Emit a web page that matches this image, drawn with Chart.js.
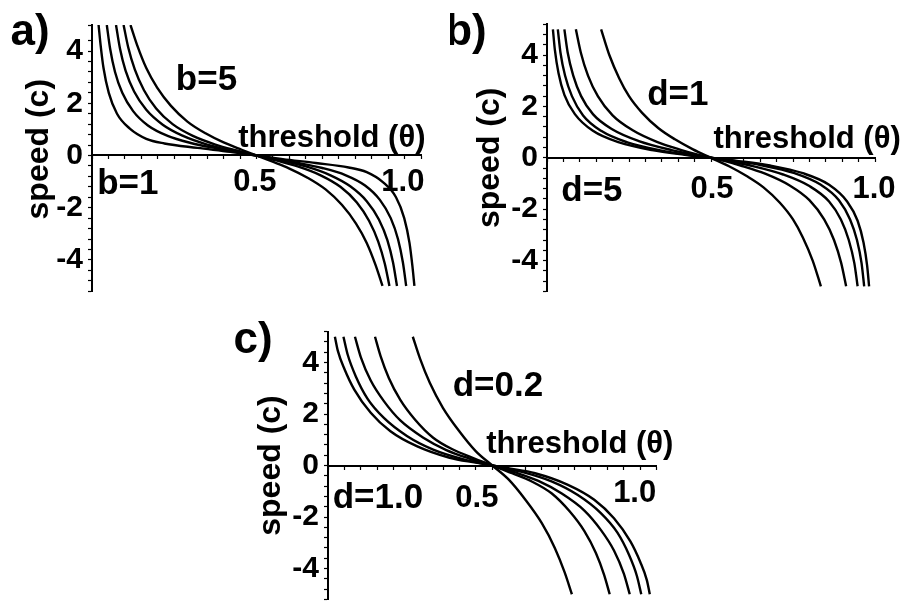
<!DOCTYPE html>
<html>
<head>
<meta charset="utf-8">
<script src="https://cdn.jsdelivr.net/npm/chart.js@4.4.1/dist/chart.umd.min.js"></script>
<style>
  html, body { margin: 0; padding: 0; background: #fff; overflow: hidden; }
  body { width: 902px; height: 603px; position: relative; }
  canvas { position: absolute; }
</style>
</head>
<body>
<canvas id="panelA" width="450" height="320" style="left:0px;top:0px"></canvas>
<canvas id="panelB" width="452" height="320" style="left:450px;top:0px"></canvas>
<canvas id="panelC" width="480" height="335" style="left:220px;top:300px"></canvas>
<script>
// tick labels
const yTickValues = [-4, -2, 0, 2, 4];
const xTickLabels = ["0.5", "1.0"];

// a) speed vs threshold for b = 1..5
const seriesA = ["b=1", "b=2", "b=3", "b=4", "b=5"];
const thetaA = [
  [0.020, 0.026, 0.035, 0.051, 0.076, 0.115, 0.165, 0.220, 0.320, 0.420, 0.500, 0.580, 0.680, 0.780, 0.835, 0.885, 0.924, 0.949, 0.965, 0.974, 0.980],
  [0.045, 0.055, 0.070, 0.092, 0.125, 0.170, 0.230, 0.300, 0.380, 0.450, 0.500, 0.550, 0.620, 0.700, 0.770, 0.830, 0.875, 0.908, 0.930, 0.945, 0.955],
  [0.073, 0.085, 0.102, 0.128, 0.165, 0.215, 0.275, 0.350, 0.430, 0.500, 0.570, 0.650, 0.725, 0.785, 0.835, 0.872, 0.898, 0.915, 0.927],
  [0.096, 0.110, 0.130, 0.158, 0.195, 0.245, 0.305, 0.375, 0.440, 0.500, 0.560, 0.625, 0.695, 0.755, 0.805, 0.842, 0.870, 0.890, 0.904],
  [0.117, 0.138, 0.165, 0.198, 0.240, 0.290, 0.345, 0.400, 0.455, 0.500, 0.545, 0.600, 0.655, 0.710, 0.760, 0.802, 0.835, 0.862, 0.883]
];
const speedA = [
  [5.0, 4.25, 3.35, 2.4, 1.6, 1.03, 0.64, 0.46, 0.29, 0.14, 0, -0.14, -0.29, -0.46, -0.64, -1.03, -1.6, -2.4, -3.35, -4.25, -5.0],
  [5.0, 4.1, 3.2, 2.4, 1.7, 1.15, 0.75, 0.48, 0.27, 0.11, 0, -0.11, -0.27, -0.48, -0.75, -1.15, -1.7, -2.4, -3.2, -4.1, -5.0],
  [5.0, 4.1, 3.25, 2.45, 1.75, 1.18, 0.76, 0.42, 0.18, 0, -0.18, -0.42, -0.76, -1.18, -1.75, -2.45, -3.25, -4.1, -5.0],
  [5.0, 4.15, 3.3, 2.5, 1.8, 1.2, 0.76, 0.42, 0.19, 0, -0.19, -0.42, -0.76, -1.2, -1.8, -2.5, -3.3, -4.15, -5.0],
  [5.0, 4.2, 3.35, 2.6, 1.9, 1.3, 0.85, 0.5, 0.22, 0, -0.22, -0.5, -0.85, -1.3, -1.9, -2.6, -3.35, -4.2, -5.0]
];

// b) speed vs threshold for d = 1..5
const seriesB = ["d=1", "d=2", "d=3", "d=4", "d=5"];
const thetaB = [
  [0.165, 0.190, 0.220, 0.250, 0.290, 0.340, 0.390, 0.445, 0.500, 0.555, 0.610, 0.660, 0.710, 0.750, 0.780, 0.810, 0.835],
  [0.088, 0.103, 0.125, 0.155, 0.200, 0.260, 0.335, 0.410, 0.460, 0.500, 0.540, 0.590, 0.665, 0.740, 0.800, 0.845, 0.875, 0.897, 0.912],
  [0.053, 0.063, 0.080, 0.104, 0.140, 0.200, 0.280, 0.380, 0.450, 0.500, 0.550, 0.620, 0.720, 0.800, 0.860, 0.896, 0.920, 0.937, 0.947],
  [0.033, 0.041, 0.055, 0.076, 0.110, 0.165, 0.245, 0.350, 0.430, 0.500, 0.570, 0.650, 0.755, 0.835, 0.890, 0.924, 0.945, 0.959, 0.967],
  [0.018, 0.024, 0.035, 0.053, 0.085, 0.140, 0.220, 0.320, 0.420, 0.500, 0.580, 0.680, 0.780, 0.860, 0.915, 0.947, 0.965, 0.976, 0.982]
];
const speedB = [
  [5.0, 4.0, 3.1, 2.4, 1.75, 1.15, 0.72, 0.33, 0, -0.33, -0.72, -1.15, -1.75, -2.4, -3.1, -4.0, -5.0],
  [5.0, 4.1, 3.2, 2.4, 1.65, 1.08, 0.62, 0.3, 0.12, 0, -0.12, -0.3, -0.62, -1.08, -1.65, -2.4, -3.2, -4.1, -5.0],
  [5.0, 4.1, 3.2, 2.4, 1.7, 1.1, 0.65, 0.3, 0.12, 0, -0.12, -0.3, -0.65, -1.1, -1.7, -2.4, -3.2, -4.1, -5.0],
  [5.0, 4.1, 3.2, 2.4, 1.65, 1.05, 0.6, 0.28, 0.12, 0, -0.12, -0.28, -0.6, -1.05, -1.65, -2.4, -3.2, -4.1, -5.0],
  [5.0, 4.2, 3.3, 2.45, 1.7, 1.05, 0.6, 0.3, 0.12, 0, -0.12, -0.3, -0.6, -1.05, -1.7, -2.45, -3.3, -4.2, -5.0]
];

// c) speed vs threshold for d = 0.2..1.0
const seriesC = ["d=0.2", "d=0.4", "d=0.6", "d=0.8", "d=1.0"];
const thetaC = [
  [0.258, 0.280, 0.310, 0.350, 0.400, 0.450, 0.500, 0.550, 0.600, 0.650, 0.690, 0.720, 0.742],
  [0.143, 0.160, 0.185, 0.220, 0.265, 0.320, 0.380, 0.440, 0.500, 0.560, 0.620, 0.680, 0.735, 0.780, 0.815, 0.840, 0.857],
  [0.082, 0.100, 0.130, 0.170, 0.220, 0.290, 0.360, 0.430, 0.500, 0.570, 0.640, 0.710, 0.780, 0.830, 0.870, 0.900, 0.918],
  [0.047, 0.060, 0.085, 0.120, 0.170, 0.240, 0.320, 0.410, 0.500, 0.590, 0.680, 0.760, 0.830, 0.880, 0.915, 0.940, 0.953],
  [0.021, 0.030, 0.050, 0.080, 0.130, 0.190, 0.270, 0.370, 0.450, 0.500, 0.550, 0.630, 0.730, 0.810, 0.870, 0.920, 0.950, 0.970, 0.979]
];
const speedC = [
  [5.0, 4.15, 3.2, 2.23, 1.32, 0.55, 0, -0.55, -1.32, -2.23, -3.2, -4.15, -5.0],
  [5.0, 4.25, 3.4, 2.55, 1.78, 1.08, 0.62, 0.3, 0, -0.3, -0.62, -1.08, -1.78, -2.55, -3.4, -4.25, -5.0],
  [5.0, 4.2, 3.3, 2.5, 1.75, 1.08, 0.6, 0.27, 0, -0.27, -0.6, -1.08, -1.75, -2.5, -3.3, -4.2, -5.0],
  [5.0, 4.3, 3.45, 2.6, 1.85, 1.15, 0.62, 0.25, 0, -0.25, -0.62, -1.15, -1.85, -2.6, -3.45, -4.3, -5.0],
  [5.0, 4.45, 3.75, 2.95, 2.05, 1.33, 0.75, 0.3, 0.11, 0, -0.11, -0.3, -0.75, -1.33, -2.05, -2.95, -3.75, -4.45, -5.0]
];

// text placed in data coordinates: [text, theta, speed, font size]
const notesA = [
  ["a)", -0.188, 4.85, 44],
  ["b=5", 0.348, 3.0, 35],
  ["b=1", 0.109, -0.98, 35],
  ["threshold (θ)", 0.729, 0.75, 31],
  [xTickLabels[0], 0.495, -0.94, 31],
  [xTickLabels[1], 0.945, -0.94, 31]
];
const notesB = [
  ["b)", -0.247, 5.0, 44],
  ["d=1", 0.399, 2.56, 35],
  ["d=5", 0.137, -1.18, 35],
  ["threshold (θ)", 0.793, 0.82, 31],
  [xTickLabels[0], 0.503, -1.14, 31],
  [xTickLabels[1], 0.997, -1.14, 31]
];
const notesC = [
  ["c)", -0.228, 5.0, 44],
  ["d=0.2", 0.517, 3.17, 35],
  ["d=1.0", 0.152, -1.18, 35],
  ["threshold (θ)", 0.766, 0.92, 31],
  [xTickLabels[0], 0.453, -1.18, 31],
  [xTickLabels[1], 0.933, -1.0, 31]
];

const FONT = '"Liberation Sans", Arial, sans-serif';

// draws the in-plot texts, centred on cap height
function notePlugin(notes) {
  return {
    id: "notes",
    afterDraw(chart) {
      const ctx = chart.ctx;
      const xs = chart.scales.x, ys = chart.scales.y;
      ctx.save();
      ctx.fillStyle = "#000";
      ctx.textAlign = "center";
      ctx.textBaseline = "alphabetic";
      notes.forEach(([text, tx, ty, size]) => {
        ctx.font = `bold ${size}px ${FONT}`;
        ctx.fillText(text, xs.getPixelForValue(tx), ys.getPixelForValue(ty) + 0.358 * size);
      });
      ctx.restore();
    }
  };
}

function buildPanel(id, names, thetas, speeds, notes, box) {
  const datasets = names.map((name, i) => ({
    label: name,
    data: thetas[i].map((t, k) => ({ x: t, y: speeds[i][k] })),
    borderColor: "#000",
    borderWidth: 2.4,
    pointRadius: 0,
    fill: false,
    cubicInterpolationMode: "monotone"
  }));

  return new Chart(document.getElementById(id), {
    type: "line",
    data: { datasets },
    options: {
      responsive: false,
      animation: false,
      devicePixelRatio: 1,
      layout: { padding: box.padding },
      plugins: { legend: { display: false }, tooltip: { enabled: false } },
      scales: {
        x: {
          type: "linear",
          min: 0,
          max: 1,
          position: { y: 0 },
          border: { color: "#000", width: 2 },
          grid: { drawOnChartArea: false, tickLength: 3, tickColor: "#000", tickWidth: 1.2 },
          ticks: { stepSize: 0.05, autoSkip: false, maxRotation: 0, callback: () => "" }
        },
        y: {
          type: "linear",
          min: -5.2,
          max: box.yMax,
          afterFit: scale => { scale.width = box.axisWidth; },
          border: { color: "#000", width: 2 },
          grid: { drawOnChartArea: false, tickLength: 4, tickColor: "#000", tickWidth: 1.2 },
          ticks: {
            stepSize: 0.4,
            autoSkip: false,
            padding: 5,
            color: "#000",
            font: { family: FONT, weight: "bold", size: 30 },
            callback: v => {
              const r = Math.round(v);
              return (Math.abs(v - r) < 1e-6 && yTickValues.includes(r)) ? String(r) : "";
            }
          },
          title: {
            display: true,
            text: box.title,
            color: "#000",
            font: { family: FONT, weight: "bold", size: 32 },
            padding: { top: box.titlePad, bottom: 0 }
          }
        }
      }
    },
    plugins: [notePlugin(notes)]
  });
}

// panel a's axis title sits a little higher than the middle of its axis
buildPanel("panelA", seriesA, thetaA, speedA, notesA,
  { title: "  speed (c)", axisWidth: 92, yMax: 5.0, titlePad: 19.8, padding: { left: 0, top: 25, right: 29, bottom: 28.8 } });
buildPanel("panelB", seriesB, thetaB, speedB, notesB,
  { title: "speed (c)", axisWidth: 97, yMax: 5.2, titlePad: 20.8, padding: { left: 0, top: 24.2, right: 27, bottom: 28.6 } });
buildPanel("panelC", seriesC, thetaC, speedC, notesC,
  { title: "speed (c)", axisWidth: 108, yMax: 5.2, titlePad: 31.8, padding: { left: 0, top: 31.6, right: 43.3, bottom: 35.6 } });
</script>
</body>
</html>
